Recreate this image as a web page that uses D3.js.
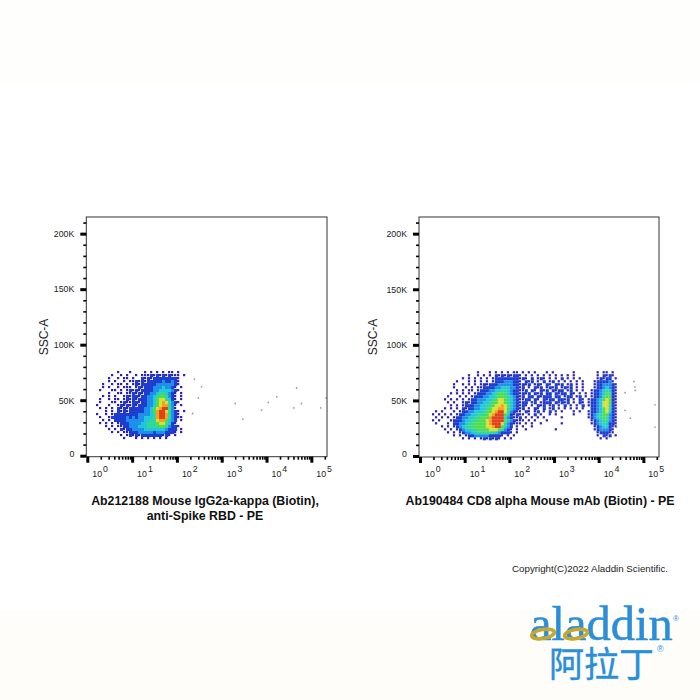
<!DOCTYPE html>
<html>
<head>
<meta charset="utf-8">
<script src="https://d3js.org/d3.v7.min.js"></script>
<style>
html,body{margin:0;padding:0;background:#fff;}
svg{display:block;}
text{font-family:"Liberation Sans",Arial,sans-serif;}
</style>
</head>
<body>
<svg id="chart" width="700" height="700">
  <defs><filter id="soft"><feGaussianBlur stdDeviation="0.55"></feGaussianBlur></filter></defs>
</svg>
<script>
var yMajor = [0, 50, 100, 150, 200];
var yMinor = [10, 20, 30, 40, 60, 70, 80, 90, 110, 120, 130, 140, 160, 170, 180, 190, 210];
var xMajor = [1, 10, 100, 1000, 10000, 100000];
var xMinor = [2, 3, 4, 5, 6, 7, 8, 9, 20, 30, 40, 50, 60, 70, 80, 90, 200, 300, 400, 500, 600, 700, 800, 900,
  2000, 3000, 4000, 5000, 6000, 7000, 8000, 9000, 20000, 30000, 40000, 50000, 60000, 70000, 80000, 90000, 200000];
var xExponents = [0, 1, 2, 3, 4, 5];

// density colours, level 1 to 9
var levelColors = ["#2a20b0", "#1c3cd0", "#1f90e8", "#20c8d8", "#30d898", "#50dc50", "#d8e030", "#f5a020", "#e0401a"];

// density: one string per SSC bin (top down), one char per log-PE bin
// pieces: sparse edge, side lobe, ramp, core, falling edge
var leftDensity = [
"......." + "1...1...." + "1.1." + "1.1" + ".11.1.",
".....1." + ".1.1..1.1" + "1121" + "212" + "12111.1",
"....1.." + "1.11.1..2" + "1212" + "222" + "22221.",
"....1.1" + "..1.11212" + "1222" + "223" + "22321.",
"..1..1." + "11.1.1212" + "2222" + "333" + "33321.",
"..1.1.." + "1.111.121" + "2223" + "334" + "3321.1",
".1...11" + ".1.121212" + "2223" + "344" + "44321.",
"....1.." + "11.112121" + "2233" + "455" + "4321.1",
"..1.1.1" + "..1212212" + "2334" + "566" + "5321.1",
".1..1.1" + "1.1212122" + "2334" + "677" + "5421.1",
".1...11" + ".12112212" + "2334" + "678" + "75321.",
"1...1.." + "121212122" + "2334" + "678" + "8531.1",
".1.1.1." + "212122222" + "3346" + "789" + "9531..",
"...1.1." + "212122222" + "3346" + "899" + "75321.1",
"1..1.12" + "222222233" + "3345" + "899" + "85321.",
".1..122" + "222323233" + "4445" + "899" + "853211",
"..1.1.2" + "222333333" + "4455" + "788" + "6432.1",
".1.1.1." + "122233334" + "4555" + "677" + "5421..",
"...1.1." + "112233344" + "4555" + "566" + "53221.",
"....1.1" + ".21223333" + "4444" + "444" + "3222.1",
".....1." + "1.1122233" + "3332" + "333" + "2221.1",
"......." + ".1.121212" + "2222" + "221" + "21.1..",
"......." + "..1...1.1" + ".1.1" + ".1." + "1....."
];
// pieces: sparse edge, lobe, core, falling edge, bridge, second population
var rightDensity = [
".........." + ".....1." + "..1.1.1" + ".1.11." + "1.1.1...1.1......1...." + "...1.11.1..",
".........." + "..1..1." + "1.1.212" + "121221" + ".1.1.1.1.1.1.1.1.1...." + "...1.2121..",
".........." + "1.1.1.1" + ".1.1222" + "222221" + "21.2.121.1.1.2.1.1.1.." + "...12122.1.",
"........1." + "..1.1.1" + ".1.1222" + "333221" + ".212.1.2.12.1.1.1.1.1." + "..1222231..",
".......1.." + "1.1.1.1" + "2122233" + "333221" + "212.121.21.212.12.1.1." + "..12233321.",
".......1.." + ".1.1.11" + "2222334" + "443321" + "2.1.212.1212.1212.1.1." + "..12234321.",
"........1." + "1.11.12" + "2233445" + "543221" + "12.21.212.2122.12.1.1." + ".122345421.",
"......1.1." + "1.1.122" + "2334566" + "543221" + "212.212.22.2122.21.1.1" + ".122346521.",
".....1...1" + ".1.1222" + "3344566" + "654321" + "2.22.21222.22.122.12.1" + ".122356621.",
"....1.1.1." + "1.12233" + "3445677" + "654321" + "122.21.2122.2212.1.21." + "1223467621.",
".....1.1.." + "1212233" + "4456677" + "654321" + "22.12.1222.21212.1.21." + "1223477621.",
"......1.1." + "1222334" + "4556778" + "764321" + "21.1.212.12.1.2.1.1.2." + "1223477521.",
"....1.1.1." + "2122334" + "4567788" + "754321" + "2.1.21.2.12.1.1.1.1.1." + ".223467521.",
".1.1...1.1" + "2233444" + "5667899" + "753211" + ".21.12.1.2.1.1...1.1.." + "1223467421.",
"1.1.1.1.12" + "2334455" + "5678999" + "642121" + "1.1.2.1..1.1.....1...." + "1234566321.",
".1.1.1.122" + "3344556" + "6689999" + "532112" + ".1.1.1.1.....1........" + "1234565321.",
"1.1...1222" + "3445566" + "6789999" + "643211" + "1.1.1...1............." + ".123455321.",
".1...1.223" + "3455666" + "6789997" + "532111" + ".1.1..1......1........" + ".123454221.",
"...1.1.123" + "4556666" + "6778996" + "432.1." + "1..1.................." + "..12344211.",
"....1.1.12" + "3445566" + "6677765" + "321.1." + ".1.........1.........." + "..1233321..",
".....1.1.1" + "2334455" + "5555432" + "221.1." + "......................" + "...122211..",
".......1.1" + ".122333" + "3322221" + ".1.1.." + "......................" + "...1.212.1.",
".........." + "1.1.1.1" + "212121." + "1.1..." + "......................" + "....1.1...."
];

// stray events, log10 PE and SSC in thousands
var leftOutX = [2.39, 2.55, 2.48, 2.35, 3.30, 3.47, 3.89, 4.04, 4.23, 4.67, 4.78, 4.61, 5.21, 5.33];
var leftOutY = [69, 62, 52, 38, 47, 33, 41, 48, 53, 61, 47, 43, 43, 52];
var rightOutX = [4.79, 4.82, 4.81, 4.59, 4.59, 4.71, 4.40, 5.26, 5.26];
var rightOutY = [67, 59, 62, 57, 41, 34, 26, 46, 26];

var svg = d3.select("#chart");

// faint jpeg tint behind the logo
svg.append("rect").attr("x", 0).attr("y", 610).attr("width", 700).attr("height", 90).attr("fill", "#fefdfa");
svg.append("rect").attr("x", 0).attr("y", 0).attr("width", 700).attr("height", 85).attr("fill", "#fefefd");

function drawPanel(opt) {
  var x = d3.scaleLog().domain([1, Math.pow(10, opt.xMaxExp)]).range([opt.x0, opt.x1]);
  var y = d3.scaleLinear().domain([0, 215]).range([opt.y0, 217]);
  var g = svg.append("g");

  var cells = [];
  opt.density.forEach(function(row, r) {
    row.split("").forEach(function(ch, c) {
      if (ch != ".") cells.push({ r: r, c: c, level: +ch });
    });
  });
  var binX = 0.067, binY = 2.7;
  var sizes = [2.2, 3.1, 3.1, 3.1, 3.1, 3.1, 3.1, 3.1, 3.1];
  g.append("g").attr("filter", "url(#soft)")
    .selectAll("rect").data(cells).enter().append("rect")
    .attr("x", function(d) { return x(Math.pow(10, opt.binX0 + d.c * binX)); })
    .attr("y", function(d) { return y(opt.binY0 - d.r * binY); })
    .attr("width", function(d) { return sizes[d.level - 1]; })
    .attr("height", function(d) { return sizes[d.level - 1]; })
    .attr("fill", function(d) { return levelColors[d.level - 1]; });

  g.selectAll("circle.out").data(opt.outX).enter().append("circle")
    .attr("class", "out")
    .attr("cx", function(d) { return x(Math.pow(10, d)); })
    .attr("cy", function(d, i) { return y(opt.outY[i]); })
    .attr("r", 0.9)
    .attr("fill", "#9a9ab4");

  // frame
  g.append("rect").attr("x", opt.x0 - 1).attr("y", 217)
    .attr("width", opt.x1 - opt.x0 + 1).attr("height", opt.y0 + 1 - 217)
    .attr("fill", "none").attr("stroke", "#333").attr("stroke-width", 1);

  // y axis
  var yMaj = g.append("g").attr("transform", "translate(" + (opt.x0 - 1) + ",0)")
    .call(d3.axisLeft(y).tickValues(yMajor).tickSize(6).tickPadding(6)
      .tickFormat(function(d) { return d == 0 ? "0" : d + "K"; }));
  yMaj.select(".domain").remove();
  yMaj.selectAll("line").attr("stroke", "#000").attr("stroke-width", 3);
  yMaj.selectAll("text").attr("font-size", 8.8).attr("fill", "#222");
  yMaj.selectAll("text").filter(function(d) { return d == 0; }).attr("dy", "0.05em");
  var yMin = g.append("g").attr("transform", "translate(" + (opt.x0 - 1) + ",0)")
    .call(d3.axisLeft(y).tickValues(yMinor).tickSize(3).tickFormat(""));
  yMin.select(".domain").remove();
  yMin.selectAll("line").attr("stroke", "#000").attr("stroke-width", 1.6);

  // x axis
  var xMaj = g.append("g").attr("transform", "translate(0," + (opt.y0 + 1) + ")")
    .call(d3.axisBottom(x).tickValues(xMajor).tickSize(6).tickFormat(""));
  xMaj.select(".domain").remove();
  xMaj.selectAll("line").attr("stroke", "#000").attr("stroke-width", 3);
  var xMin = g.append("g").attr("transform", "translate(0," + (opt.y0 + 1) + ")")
    .call(d3.axisBottom(x).tickValues(xMinor).tickSize(3).tickFormat(""));
  xMin.select(".domain").remove();
  xMin.selectAll("line").attr("stroke", "#000").attr("stroke-width", 1.6);

  xExponents.forEach(function(e) {
    var t = g.append("text")
      .attr("x", x(Math.pow(10, e)) + 5)
      .attr("y", opt.y0 + 21)
      .attr("font-size", 8.8)
      .attr("fill", "#222")
      .text("10");
    t.append("tspan").attr("dx", 1).attr("dy", -5).text(e);
  });

  g.append("text")
    .attr("transform", "translate(" + opt.ylabelX + ",337) rotate(-90)")
    .attr("text-anchor", "middle")
    .attr("font-size", 12)
    .attr("fill", "#222")
    .text("SSC-A");

  opt.title.forEach(function(line, i) {
    g.append("text")
      .attr("x", opt.titleX)
      .attr("y", 505 + i * 15)
      .attr("text-anchor", "middle")
      .attr("font-size", 12.35)
      .attr("font-weight", "bold")
      .attr("fill", "#111")
      .text(line);
  });
}

drawPanel({
  x0: 87.3, x1: 327, y0: 455.7, xMaxExp: 5.35,
  density: leftDensity, binX0: 0.194, binY0: 76.3,
  outX: leftOutX, outY: leftOutY,
  ylabelX: 48, titleX: 205,
  title: ["Ab212188 Mouse IgG2a-kappa (Biotin),", "anti-Spike RBD - PE"]
});
drawPanel({
  x0: 420, x1: 659, y0: 456, xMaxExp: 5.35,
  density: rightDensity, binX0: 0.268, binY0: 76.3,
  outX: rightOutX, outY: rightOutY,
  ylabelX: 377, titleX: 540,
  title: ["Ab190484 CD8 alpha Mouse mAb (Biotin) - PE"]
});

svg.append("text").attr("x", 512).attr("y", 572)
  .attr("font-size", 9.75).attr("fill", "#222")
  .text("Copyright(C)2022 Aladdin Scientific.");

// logo
var logo = svg.append("g");
logo.append("text").attr("x", 530).attr("y", 640)
  .attr("font-size", 48.5).attr("fill", "#2a8fd8")
  .attr("stroke", "#2a8fd8").attr("stroke-width", 0.5)
  .style("font-family", "'Liberation Serif',serif")
  .text("aladdin");
[543, 576].forEach(function(cx) {
  logo.append("ellipse").attr("cx", cx).attr("cy", 634).attr("rx", 11.5).attr("ry", 4.5)
    .attr("transform", "rotate(-10," + cx + ",634)")
    .attr("fill", "none").attr("stroke", "#c8a82c").attr("stroke-width", 3.6);
});
logo.append("text").attr("x", 673).attr("y", 621)
  .attr("font-size", 8).attr("fill", "#2a8fd8").text("®");
logo.append("text").attr("x", 549).attr("y", 677)
  .attr("font-size", 35).attr("fill", "#2a8fd8")
  .attr("stroke", "#2a8fd8").attr("stroke-width", 0.4)
  .style("font-family", "'Noto Sans CJK SC',sans-serif")
  .text("阿拉丁");
logo.append("text").attr("x", 657).attr("y", 652)
  .attr("font-size", 9).attr("fill", "#2a8fd8").text("®");
</script>
</body>
</html>
